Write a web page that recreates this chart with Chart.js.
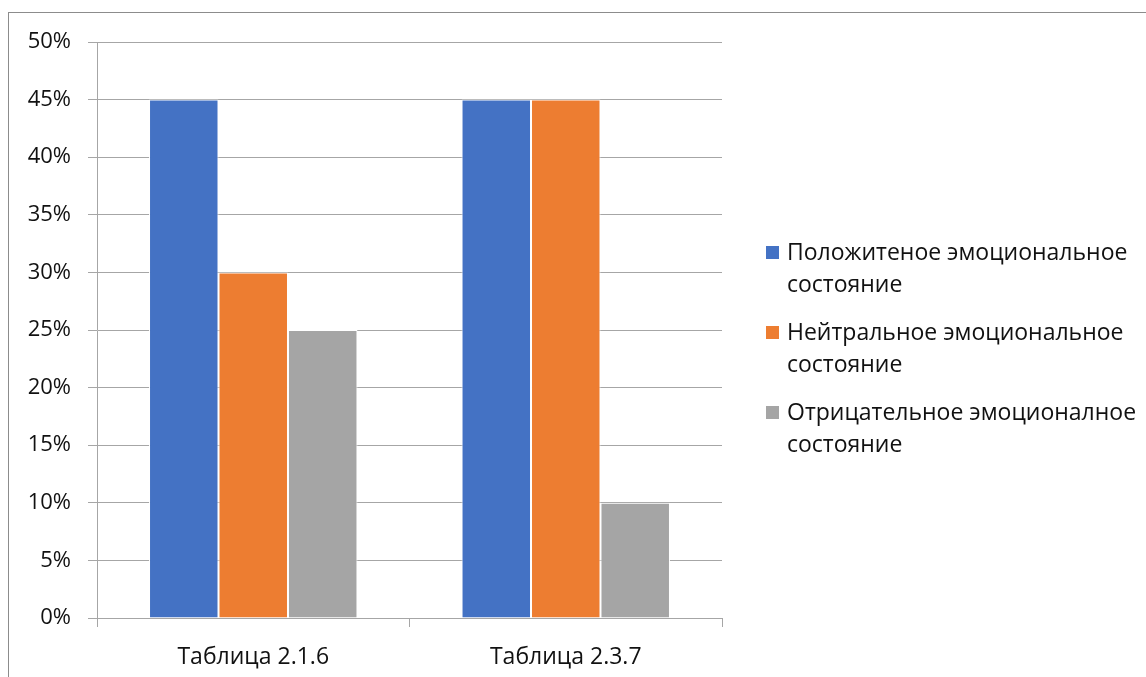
<!DOCTYPE html>
<html>
<head>
<meta charset="utf-8">
<script src="https://cdn.jsdelivr.net/npm/chart.js@4/dist/chart.umd.min.js"></script>
<style>
  html, body { margin: 0; padding: 0; background: #fff; }
  #wrap { position: relative; width: 1146px; height: 677px; overflow: hidden; }
  #frame { position: absolute; left: 8px; top: 12px; width: 1200px; height: 700px;
           border-left: 1px solid #8c8c8c; border-top: 1px solid #8c8c8c; }
  canvas { position: absolute; left: 0; top: 0; }
  #legend { position: absolute; left: 766px; top: 235px; font-family: "Open Sans", sans-serif;
            font-size: 23px; color: #111; white-space: nowrap; }
  .item { position: relative; padding-left: 21px; line-height: 32px; margin-bottom: 16px; }
  .sw { position: absolute; left: 0; top: 11px; width: 13px; height: 13px; }
</style>
</head>
<body>
<div id="wrap">
  <div id="frame"></div>
  <canvas id="c" width="1146" height="677"></canvas>
  <div id="legend"></div>
</div>
<script>
const categories = ["Таблица 2.1.6", "Таблица 2.3.7"];
const seriesNames = [
  ["Положитеное эмоциональное", "состояние"],
  ["Нейтральное эмоциональное", "состояние"],
  ["Отрицательное эмоционалное", "состояние"]
];
const positive = [45, 45];
const neutral = [30, 45];
const negative = [25, 10];
const colors = ["#4472C4", "#ED7D31", "#A5A5A5"];
const yTicks = [0, 5, 10, 15, 20, 25, 30, 35, 40, 45, 50];

const seriesValues = [positive, neutral, negative];
const fontFamily = '"Open Sans", sans-serif';

const datasets = seriesValues.map((vals, i) => ({
  label: seriesNames[i].join(" "),
  data: vals,
  backgroundColor: colors[i],
  borderColor: "#ffffff",
  borderWidth: 1,
  categoryPercentage: 0.667,
  barPercentage: 1.0
}));

new Chart(document.getElementById("c"), {
  type: "bar",
  data: { labels: categories, datasets },
  options: {
    responsive: false,
    animation: false,
    layout: { padding: { left: 0, right: 424, top: 42, bottom: 0 } },
    plugins: { legend: { display: false }, tooltip: { enabled: false } },
    scales: {
      x: {
        grid: { drawOnChartArea: false, drawTicks: true, tickLength: 9, color: "#a6a6a6", offset: true },
        border: { color: "#a6a6a6", width: 1 },
        ticks: { color: "#111", font: { family: fontFamily, size: 23 }, padding: 17 },
        afterFit: (s) => { s.height = 59; }
      },
      y: {
        min: 0, max: 50,
        afterBuildTicks: (s) => { s.ticks = yTicks.map(v => ({ value: v })); },
        grid: { color: "#a6a6a6", tickLength: 9, lineWidth: 1 },
        border: { color: "#a6a6a6", width: 1 },
        ticks: { color: "#111", font: { family: fontFamily, size: 22 }, padding: 17,
                 callback: (v) => v + "%" },
        afterFit: (s) => { s.width = 97; }
      }
    }
  }
});

const legend = document.getElementById("legend");
seriesNames.forEach((lines, i) => {
  const d = document.createElement("div");
  d.className = "item";
  d.innerHTML = '<span class="sw" style="background:' + colors[i] + '"></span>' + lines.join("<br>");
  legend.appendChild(d);
});
</script>
</body>
</html>
